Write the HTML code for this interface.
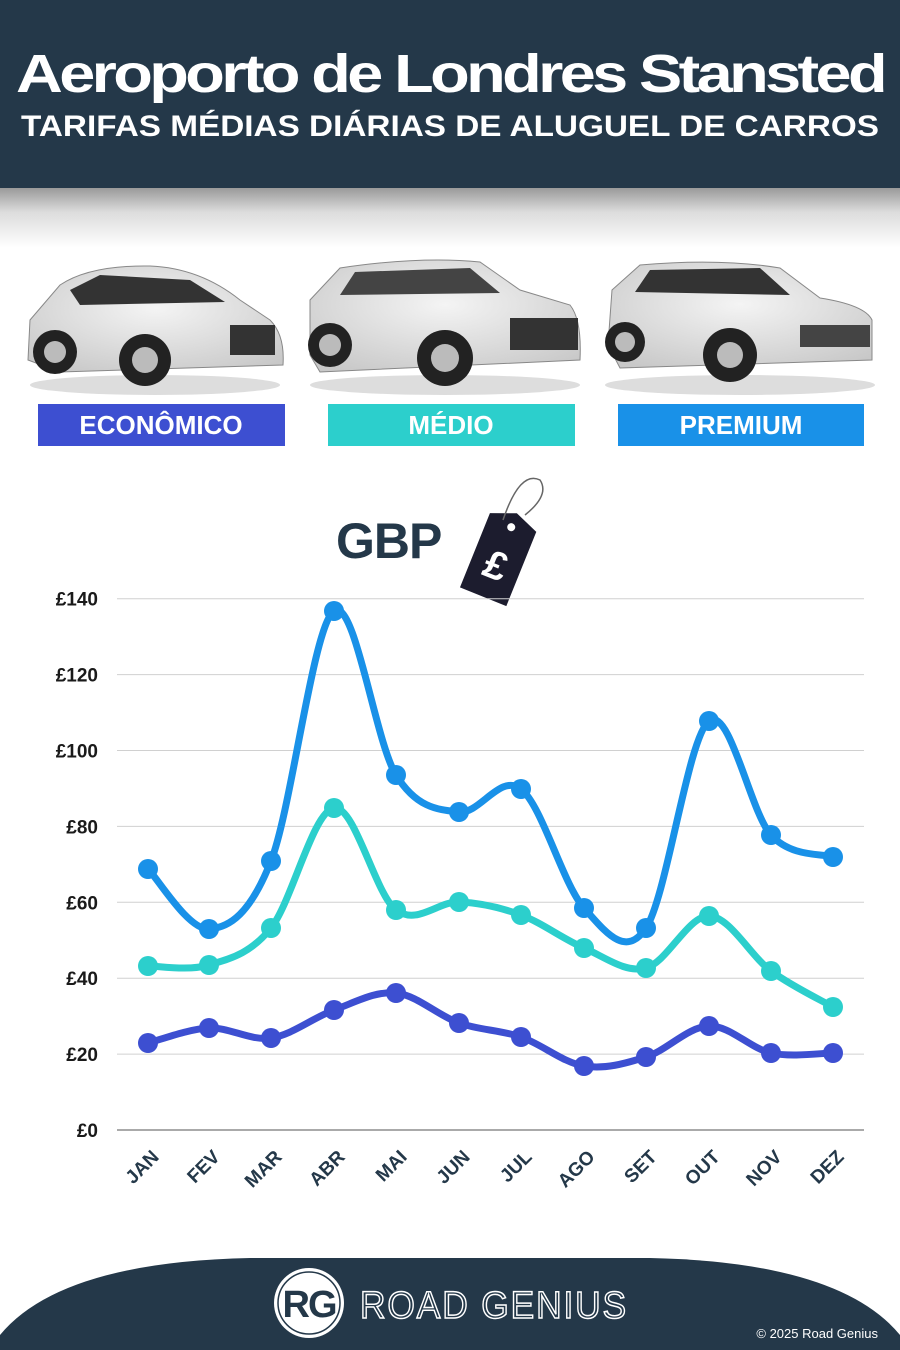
<!DOCTYPE html>
<html><head><meta charset="utf-8"><style>
html,body{margin:0;padding:0;background:#fff;}
body{width:900px;height:1350px;overflow:hidden;position:relative;font-family:"Liberation Sans",sans-serif;}
</style></head><body>
<svg id="s" width="900" height="1350" viewBox="0 0 900 1350" xmlns="http://www.w3.org/2000/svg" style="position:absolute;left:0;top:0">
<defs>
<linearGradient id="sh" x1="0" y1="0" x2="0" y2="1"><stop offset="0" stop-color="#9a9a9a"/><stop offset="0.4" stop-color="#dcdcdc"/><stop offset="1" stop-color="#fff"/></linearGradient>
<radialGradient id="carg" cx="0.5" cy="0.4" r="0.7"><stop offset="0" stop-color="#f4f4f4"/><stop offset="1" stop-color="#c8c8c8"/></radialGradient>
</defs>
<rect x="0" y="0" width="900" height="188" fill="#243849"/>
<rect x="0" y="188" width="900" height="60" fill="url(#sh)"/>
<text x="450" y="92" text-anchor="middle" font-family="Liberation Sans" font-weight="bold" font-size="54" fill="#fff" letter-spacing="-3" textLength="868" lengthAdjust="spacingAndGlyphs">Aeroporto de Londres Stansted</text>
<text x="450" y="136" text-anchor="middle" font-family="Liberation Sans" font-weight="bold" font-size="30" fill="#fff" textLength="858" lengthAdjust="spacingAndGlyphs">TARIFAS MÉDIAS DIÁRIAS DE ALUGUEL DE CARROS</text>

<!-- cars -->
<g>
<ellipse cx="155" cy="385" rx="125" ry="10" fill="#ddd"/>
<path d="M28 360 L30 320 L60 285 Q90 265 150 266 Q200 268 240 300 L270 320 Q285 335 283 365 L60 372 Z" fill="url(#carg)" stroke="#888"/>
<path d="M70 290 L100 275 L190 280 L225 302 L80 305 Z" fill="#333"/>
<circle cx="55" cy="352" r="22" fill="#222"/><circle cx="55" cy="352" r="11" fill="#bbb"/>
<circle cx="145" cy="360" r="26" fill="#222"/><circle cx="145" cy="360" r="13" fill="#bbb"/>
<rect x="230" y="325" width="45" height="30" fill="#333"/>
</g>
<g>
<ellipse cx="445" cy="385" rx="135" ry="10" fill="#ddd"/>
<path d="M310 355 L310 300 L340 268 Q420 256 480 262 L520 290 L570 305 Q582 320 580 360 L320 372 Z" fill="url(#carg)" stroke="#888"/>
<path d="M340 295 L355 272 L470 268 L500 293 Z" fill="#444"/>
<circle cx="330" cy="345" r="22" fill="#222"/><circle cx="330" cy="345" r="11" fill="#bbb"/>
<circle cx="445" cy="358" r="28" fill="#222"/><circle cx="445" cy="358" r="14" fill="#bbb"/>
<rect x="510" y="318" width="68" height="32" fill="#333"/>
</g>
<g>
<ellipse cx="740" cy="385" rx="135" ry="10" fill="#ddd"/>
<path d="M608 345 L612 290 L640 265 Q720 258 780 268 L820 298 Q865 305 872 320 L872 360 L620 368 Z" fill="url(#carg)" stroke="#888"/>
<path d="M635 292 L650 270 L760 268 L790 295 Z" fill="#333"/>
<circle cx="625" cy="342" r="20" fill="#222"/><circle cx="625" cy="342" r="10" fill="#bbb"/>
<circle cx="730" cy="355" r="27" fill="#222"/><circle cx="730" cy="355" r="13" fill="#bbb"/>
<rect x="800" y="325" width="70" height="22" fill="#444"/>
</g>

<rect x="38" y="404" width="247" height="42" fill="#3d4fd1"/>
<text x="161" y="434" text-anchor="middle" font-weight="bold" font-size="26" fill="#fff">ECONÔMICO</text>
<rect x="328" y="404" width="247" height="42" fill="#2ccfcc"/>
<text x="451" y="434" text-anchor="middle" font-weight="bold" font-size="26" fill="#fff">MÉDIO</text>
<rect x="618" y="404" width="246" height="42" fill="#1991e8"/>
<text x="741" y="434" text-anchor="middle" font-weight="bold" font-size="26" fill="#fff">PREMIUM</text>

<text x="336" y="558" font-weight="bold" font-size="50" fill="#243849" letter-spacing="-1">GBP</text>
<g transform="rotate(22 500 555)">
<path d="M475 520 L525 520 L525 600 L475 600 Z M500 510 L475 520 L525 520 Z" fill="#1c1c2e"/>
<circle cx="500" cy="525" r="4" fill="#fff"/>
<text x="500" y="580" text-anchor="middle" font-weight="bold" font-size="40" fill="#fff">£</text>
</g>
<path d="M503 520 Q520 470 540 480 Q550 495 525 515" fill="none" stroke="#666" stroke-width="1.5"/>

<g id="grid" stroke="#d0d0d0" stroke-width="1"></g>
<g id="ylab" font-weight="bold" font-size="19" fill="#1a1a1a" text-anchor="end"></g>
<g id="xlab" font-weight="bold" font-size="19" fill="#243849" text-anchor="end"></g>
<g id="series"></g>

<path d="M0 1350 L0 1335 Q60 1262 250 1258 L650 1258 Q840 1262 900 1335 L900 1350 Z" fill="#243849"/>
<circle cx="309" cy="1303" r="35" fill="#fff"/>
<circle cx="309" cy="1303" r="31" fill="none" stroke="#243849" stroke-width="1.5"/>
<text x="309" y="1317" text-anchor="middle" font-weight="bold" font-size="38" fill="#243849" letter-spacing="-2">RG</text>
<text x="360" y="1318" font-size="38" fill="#243849" stroke="#fff" stroke-width="1.5" letter-spacing="2" textLength="268" lengthAdjust="spacingAndGlyphs">ROAD GENIUS</text>
<text x="878" y="1338" text-anchor="end" font-size="13" fill="#fff">© 2025 Road Genius</text>
</svg>
<script>
var ns="http://www.w3.org/2000/svg";
function el(t,a,p,txt){var e=document.createElementNS(ns,t);for(var k in a)e.setAttribute(k,a[k]);if(txt)e.textContent=txt;document.getElementById(p).appendChild(e);}
var y0=1130,step=75.9;
for(var i=0;i<=7;i++){var y=y0-i*step;
 el('line',{x1:117,x2:864,y1:y,y2:y,stroke:i==0?'#555':'#d0d0d0'},'grid');
 el('text',{x:98,y:y+7},'ylab','£'+(i*20));}
var xs=[148,209,271,334,396,459,521,584,646,709,771,833];
var m=['JAN','FEV','MAR','ABR','MAI','JUN','JUL','AGO','SET','OUT','NOV','DEZ'];
m.forEach(function(t,i){el('text',{x:xs[i]+12,y:1158,transform:'rotate(-45 '+(xs[i]+12)+' 1158)'},'xlab',t);});
var S=[
 ['#3d4fd1',[1043,1028,1038,1010,993,1023,1037,1066,1057,1026,1053,1053]],
 ['#2ccfcc',[966,965,928,808,910,902,915,948,968,916,971,1007]],
 ['#1991e8',[869,929,861,611,775,812,789,908,928,721,835,857]]];
S.forEach(function(s){var c=s[0],ys=s[1];var P=xs.map(function(x,i){return[x,ys[i]];});
 var d='M'+P[0][0]+' '+P[0][1];
 for(var i=0;i<P.length-1;i++){var p0=P[i-1]||P[i],p1=P[i],p2=P[i+1],p3=P[i+2]||p2;
  d+=' C'+(p1[0]+(p2[0]-p0[0])/6)+' '+(p1[1]+(p2[1]-p0[1])/6)+' '+(p2[0]-(p3[0]-p1[0])/6)+' '+(p2[1]-(p3[1]-p1[1])/6)+' '+p2[0]+' '+p2[1];}
 el('path',{d:d,fill:'none',stroke:c,'stroke-width':7,'stroke-linecap':'round'},'series');
 P.forEach(function(p){el('circle',{cx:p[0],cy:p[1],r:10,fill:c},'series');});
});
</script>
</body></html>
